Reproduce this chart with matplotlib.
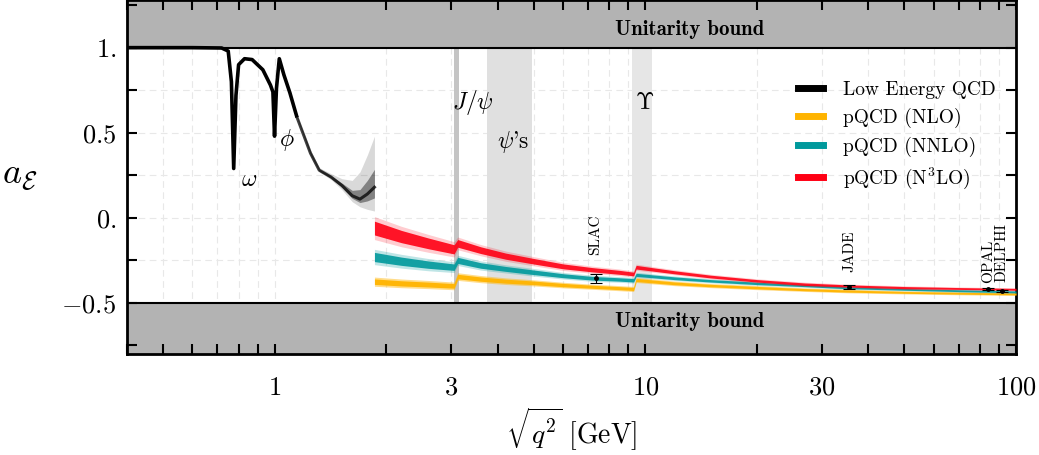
import numpy as np
import matplotlib
matplotlib.use("Agg")
import matplotlib.pyplot as plt
from matplotlib.lines import Line2D
from matplotlib.ticker import FixedLocator, FixedFormatter, NullFormatter

plt.rcParams['mathtext.fontset'] = 'cm'
plt.rcParams['font.family'] = 'serif'
plt.rcParams['font.serif'] = ['cmr10']
plt.rcParams['axes.unicode_minus'] = False

# Low energy QCD (solid part)
le_x = [0.40, 0.60, 0.72, 0.75, 0.765, 0.776, 0.787, 0.80, 0.83, 0.87, 0.93, 0.975,
        0.99, 1.0, 1.012, 1.03, 1.06, 1.10, 1.15]
le_y = [1.0, 1.0, 0.998, 0.98, 0.80, 0.29, 0.72, 0.90, 0.935, 0.93, 0.87, 0.78,
        0.74, 0.48, 0.76, 0.935, 0.84, 0.735, 0.59]

# Low energy QCD (uncertainty bundle)
bun_x = [1.15, 1.25, 1.32, 1.42, 1.52, 1.62, 1.70, 1.78, 1.86]
bun_mid = [0.59, 0.38, 0.28, 0.24, 0.19, 0.13, 0.11, 0.14, 0.18]
bun_lo = [0.585, 0.365, 0.27, 0.225, 0.165, 0.095, 0.065, 0.05, 0.04]
bun_hi = [0.60, 0.40, 0.295, 0.26, 0.23, 0.22, 0.27, 0.37, 0.48]

# pQCD predictions
pq_x = [1.86, 2.2, 2.6, 3.05, 3.12, 3.6, 4.2, 5.0, 6.0, 7.2, 8.5, 9.3, 9.45,
        12, 15, 20, 27, 35, 50, 70, 100]
n3lo_mid = [-0.06, -0.11, -0.15, -0.185, -0.15, -0.19, -0.225, -0.255, -0.285, -0.305,
            -0.32, -0.33, -0.29, -0.32, -0.345, -0.37, -0.39, -0.40, -0.41, -0.415, -0.42]
n3lo_w = [0.045, 0.04, 0.035, 0.03, 0.025, 0.022, 0.02, 0.018, 0.016, 0.014, 0.013,
          0.012, 0.012, 0.01, 0.009, 0.008, 0.008, 0.007, 0.007, 0.006, 0.006]
nnlo_mid = [-0.23, -0.255, -0.275, -0.29, -0.25, -0.28, -0.30, -0.32, -0.34, -0.355,
            -0.362, -0.367, -0.335, -0.355, -0.37, -0.385, -0.398, -0.41, -0.42, -0.428, -0.435]
nnlo_w = [0.03, 0.027, 0.024, 0.021, 0.02, 0.018, 0.016, 0.015, 0.013, 0.012, 0.011,
          0.011, 0.01, 0.009, 0.008, 0.008, 0.007, 0.007, 0.006, 0.006, 0.006]
nlo_mid = [-0.375, -0.385, -0.392, -0.40, -0.345, -0.36, -0.372, -0.382, -0.395, -0.405,
           -0.413, -0.418, -0.365, -0.385, -0.398, -0.41, -0.422, -0.43, -0.438, -0.443, -0.447]
nlo_w = [0.018, 0.017, 0.016, 0.015, 0.015, 0.014, 0.013, 0.012, 0.011, 0.01, 0.01,
         0.01, 0.01, 0.009, 0.008, 0.008, 0.007, 0.007, 0.006, 0.006, 0.006]

# measurements
exp_names = ['SLAC', 'JADE', 'OPAL', 'DELPHI']
exp_x = [7.35, 35.5, 84.0, 91.5]
exp_y = [-0.355, -0.405, -0.42, -0.43]
exp_err = [0.025, 0.012, 0.006, 0.005]
exp_label_y = [-0.22, -0.32, -0.38, -0.376]

C_NLO = '#FFB400'
C_NNLO = '#00999C'
C_N3LO = '#FF0014'

fig = plt.figure(figsize=(10.39, 4.55), dpi=100)
ax = fig.add_axes([127 / 1039, 101 / 455, 889 / 1039, 354 / 455])
ax.set_xscale('log')
ax.set_xlim(0.4, 100)
ax.set_ylim(-0.8, 1.28)

# grid
grid_x = [0.4, 0.5, 0.6, 0.7, 0.8, 0.9, 1, 2, 3, 4, 5, 6, 7, 8, 9, 10, 20, 30, 40, 50, 60, 70, 80, 90]
for gx in grid_x:
    ax.axvline(gx, color='#e8e8e8', lw=0.8, ls=(0, (6, 4)), zorder=0)
for gy in [-0.25, 0, 0.25, 0.5, 0.75]:
    ax.axhline(gy, color='#e8e8e8', lw=0.8, ls=(0, (6, 4)), zorder=0)

# resonance bands
ax.fill_between([3.05, 3.15], -0.5, 1.0, color='#c4c4c4', lw=0, zorder=1)
ax.fill_between([3.75, 4.95], -0.5, 1.0, color='#e0e0e0', lw=0, zorder=1)
ax.fill_between([9.2, 10.4], -0.5, 1.0, color='#e6e6e6', lw=0, zorder=1)

# unitarity bound
ax.axhspan(1.0, 1.4, color='#b3b3b3', lw=0, zorder=1)
ax.axhspan(-1.0, -0.5, color='#b3b3b3', lw=0, zorder=1)
ax.axhline(1.0, color='black', lw=1.5, zorder=2)
ax.axhline(-0.5, color='black', lw=1.5, zorder=2)
ax.text(0.633, 1.105, 'Unitarity bound', transform=ax.get_yaxis_transform(),
        family='cmb10', fontsize=15, ha='center', va='center', zorder=3)
ax.text(0.633, -0.607, 'Unitarity bound', transform=ax.get_yaxis_transform(),
        family='cmb10', fontsize=15, ha='center', va='center', zorder=3)

# low energy curve
ax.plot(le_x, le_y, color='black', lw=2.6, zorder=5, solid_capstyle='butt')
ax.fill_between(bun_x, bun_lo, bun_hi, color='black', alpha=0.15, lw=0, zorder=4)
bun_lo_in = [m - 0.45 * (m - l) for m, l in zip(bun_mid, bun_lo)]
bun_hi_in = [m + 0.35 * (h - m) for m, h in zip(bun_mid, bun_hi)]
ax.fill_between(bun_x, bun_lo_in, bun_hi_in, color='black', alpha=0.4, lw=0, zorder=4)
ax.plot(bun_x, bun_mid, color='black', lw=2.2, alpha=0.75, zorder=5)

# pQCD bands
for mid, w, col, a_out, a_in in [(nlo_mid, nlo_w, C_NLO, 0.45, 0.95),
                                 (nnlo_mid, nnlo_w, C_NNLO, 0.25, 0.9),
                                 (n3lo_mid, n3lo_w, C_N3LO, 0.2, 0.9)]:
    m = np.array(mid)
    hw = np.array(w)
    ax.fill_between(pq_x, m - 1.5 * hw, m + 1.5 * hw, color=col, alpha=a_out, lw=0, zorder=6)
    ax.fill_between(pq_x, m - 0.9 * hw, m + 0.9 * hw, color=col, alpha=a_in, lw=0, zorder=6)

# data points
ax.errorbar(exp_x, exp_y, yerr=exp_err, fmt='o', color='black', ms=2.5,
            elinewidth=0.8, capsize=4, capthick=0.8, zorder=8)
for name, x, y in zip(exp_names, exp_x, exp_label_y):
    ax.text(x, y, name, rotation=90, ha='center', va='bottom', fontsize=11, zorder=8)

# resonance labels
ax.text(0.856, 0.224, r'$\omega$', fontsize=17, ha='center', va='center')
ax.text(1.077, 0.46, r'$\phi$', fontsize=17, ha='center', va='center')
ax.text(3.42, 0.676, r'$J/\psi$', fontsize=17, ha='center', va='center')
ax.text(4.39, 0.447, r"$\psi$'s", fontsize=17, ha='center', va='center')
ax.text(9.97, 0.676, r'$\Upsilon$', fontsize=17, ha='center', va='center')

# axes, ticks
ax.xaxis.set_major_locator(FixedLocator([1, 3, 10, 30, 100]))
ax.xaxis.set_major_formatter(FixedFormatter([r'$1$', r'$3$', r'$10$', r'$30$', r'$100$']))
ax.xaxis.set_minor_locator(FixedLocator(grid_x))
ax.xaxis.set_minor_formatter(NullFormatter())
ax.yaxis.set_major_locator(FixedLocator([-0.5, 0, 0.5, 1.0]))
ax.yaxis.set_major_formatter(FixedFormatter([r'$-0.5$', r'$0.$', r'$0.5$', r'$1.$']))
ax.yaxis.set_minor_locator(FixedLocator([-0.75, -0.25, 0.25, 0.75, 1.25]))
ax.tick_params(which='both', direction='in', top=True, right=True, width=1.5, labelsize=19)
ax.tick_params(which='major', length=7, pad=8)
ax.tick_params(which='minor', length=7)
ax.tick_params(axis='x', which='major', pad=16)
for s in ax.spines.values():
    s.set_linewidth(2)

ax.set_xlabel(r'$\sqrt{q^2}\ \mathrm{[GeV]}$', fontsize=20, labelpad=4)
ax.set_ylabel(r'$a_\mathcal{E}$', fontsize=26, rotation=0, labelpad=30, va='center')

handles = [Line2D([], [], color='black', lw=5),
           Line2D([], [], color=C_NLO, lw=5),
           Line2D([], [], color=C_NNLO, lw=5),
           Line2D([], [], color=C_N3LO, lw=5)]
labels = ['Low Energy QCD', 'pQCD (NLO)', 'pQCD (NNLO)', r'pQCD (N$^3$LO)']
ax.legend(handles, labels, loc='upper left', bbox_to_anchor=(0.735, 0.82), frameon=False,
          fontsize=14, handlelength=1.3, labelspacing=0.45, handletextpad=1.0)

fig.savefig('out.png', dpi=100)
